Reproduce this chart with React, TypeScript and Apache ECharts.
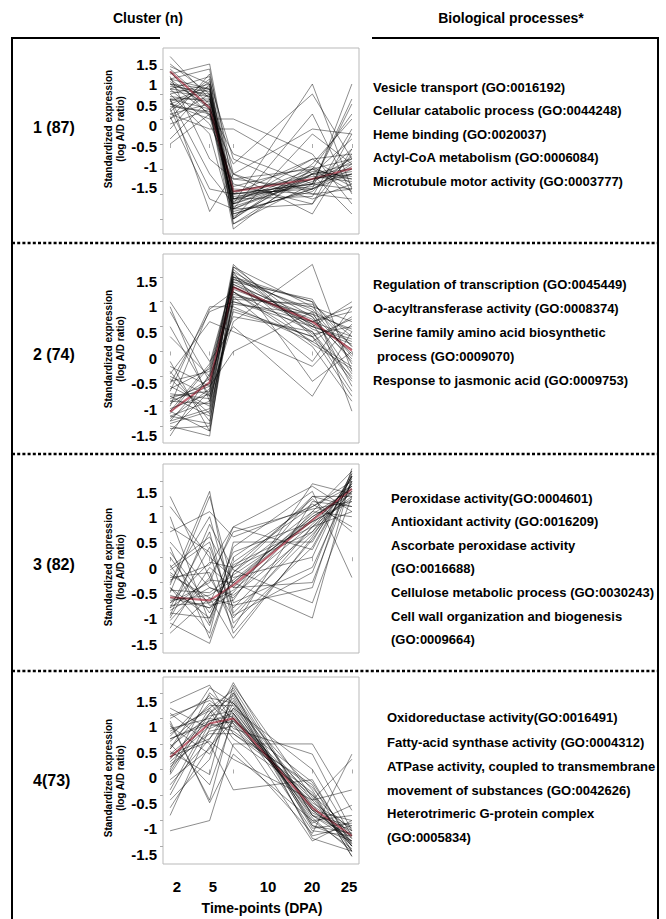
import React, { useEffect, useRef } from 'react';
import * as echarts from 'echarts';

// ---------------- data ----------------
const timePoints = [2, 7, 10, 20, 25];
const xTickLabels = ['2', '5', '10', '20', '25'];
const yTickValues = [-1.5, -1, -0.5, 0, 0.5, 1, 1.5];
const clusterLabels = ['1 (87)', '2 (74)', '3 (82)', '4(73)'];
const headerCluster = 'Cluster (n)';
const headerProcesses = 'Biological processes*';
const yTitleLine1 = 'Standardized expression';
const yTitleLine2 = '(log A/D ratio)';
const xTitle = 'Time-points (DPA)';

const cluster1Profiles = [
  [1.75, 0.9, -1.2, -0.6, -0.5], [1.6, 1.0, -1.0, -0.8, -0.6], [1.5, 0.8, -1.3, -0.7, -0.3],
  [1.4, 1.6, -0.9, -1.0, -1.1], [1.3, 1.5, -1.1, -0.8, -0.9], [1.2, 1.1, -1.5, -0.5, -0.3],
  [1.2, 0.6, -0.8, -1.2, 0.2], [1.1, 1.0, -1.6, -0.6, 0.1], [1.1, 0.4, -0.6, -1.1, -0.8],
  [1.0, 1.2, -1.4, -0.9, -0.4], [0.9, -1.35, -0.6, 0.3, 0.2], [0.9, 0.9, -1.0, -0.3, -0.8],
  [0.9, 0.7, -1.7, -0.5, 0.6], [0.8, 1.1, -1.2, 1.2, -0.9], [0.8, 0.5, 0.5, -0.2, -1.2],
  [0.7, 1.3, -1.1, -0.7, -0.6], [0.7, -0.9, -1.0, -0.8, 0.9], [0.6, 0.8, -1.4, -0.9, 1.2],
  [0.6, 0.3, 0.3, -0.6, -1.4], [0.5, 1.0, -1.3, -1.2, -0.2], [0.5, 1.4, -0.6, -1.4, -0.1],
  [0.3, 1.2, -1.1, -0.5, -0.7], [0.1, 0.9, -1.0, -0.9, -0.5], [0.0, 0.6, -0.4, 1.0, -0.3],
  [1.3, 0.7, -1.5, 0.2, -0.4], [1.15, 1.05, -1.2, -0.7, -0.55], [1.05, 0.95, -1.05, -0.85, -0.45],
  [0.95, 0.85, -1.25, -0.75, -0.35], [1.25, 0.75, -0.95, -0.65, -0.75], [0.85, 1.15, -1.35, -0.95, -0.25],
  [1.45, 0.55, -1.15, -0.55, -0.65], [0.75, 0.65, -0.85, -0.45, -0.85], [1.35, -0.3, -0.7, -0.9, -0.6],
  [1.0, 0.2, -1.5, -0.4, 0.5], [0.65, 1.25, -0.3, -1.0, -0.9], [1.55, 1.2, -1.6, -0.8, -0.1],
  [0.9, -0.6, -1.2, -0.3, -0.2], [1.2, 0.95, -1.3, 0.6, -1.0], [0.4, 0.7, -0.2, -0.8, 0.8],
  [1.1, 1.35, -1.45, -0.6, -0.7], [0.8, 0.6, -1.1, -1.05, 0.3], [1.3, 1.1, -0.7, -0.5, -0.95],
  [0.55, -1.1, -1.3, -0.6, -0.4],
];
const cluster1Centroid = [1.45, 0.72, -0.95, -0.7, -0.49];

const cluster2Profiles = [
  [-1.6, -0.8, 1.7, 0.9, 0.1], [-1.5, -1.7, 1.5, 0.8, 0.4], [-1.4, -0.5, 1.6, 0.7, -0.2],
  [-1.3, -1.0, 1.4, 0.6, 0.3], [-1.2, -1.6, 1.3, 0.5, 1.0], [-1.1, 0.85, 1.2, 0.4, -0.6],
  [-1.0, -0.7, 1.75, 0.3, -0.9], [-0.9, -1.3, 1.1, 0.9, 0.6], [-0.8, 0.9, 0.9, 0.2, -0.3],
  [-0.7, -1.1, 1.5, 1.0, -1.2], [-0.6, -0.4, 1.3, 0.6, 0.8], [-0.5, -0.9, 0.6, 1.75, -0.4],
  [-0.4, -1.4, 1.0, 0.5, 0.2], [1.0, -0.2, 0.5, -0.9, 0.4], [0.8, -0.6, 1.2, 0.1, -1.0],
  [0.9, -1.0, 0.8, 0.3, -0.5], [-1.25, -0.3, 1.45, 0.85, -0.1], [-1.35, -0.75, 1.35, 0.55, 0.05],
  [-1.05, -0.55, 1.25, 0.65, -0.15], [-1.15, -0.85, 1.55, 0.45, 0.15], [-0.95, -0.65, 1.15, 0.75, -0.05],
  [-1.45, -1.2, 1.65, 0.35, 0.5], [-0.3, -0.7, 0.0, 0.8, -0.7], [-0.65, 0.8, 1.0, 0.6, 0.9],
  [-1.55, -1.5, 1.4, 1.05, -0.25], [-0.85, -0.95, 1.6, -0.6, 0.0], [-1.7, -0.45, 1.2, 0.2, 0.7],
  [-0.55, -1.25, 1.05, 0.95, 0.3], [0.3, -0.5, 0.7, 0.4, -0.8], [-0.75, -0.35, 1.35, 0.7, -0.45],
  [-1.3, -1.45, 1.7, 0.5, 0.25], [-0.45, 0.6, 0.4, -0.3, 0.55], [-1.0, -1.05, 0.95, 0.75, 0.45],
  [-1.2, -0.25, 1.5, 0.15, -0.35], [-0.9, -0.8, 1.45, 1.0, 0.1], [-1.4, -1.15, 0.85, 0.3, 0.65],
  [0.5, -0.9, 1.3, 0.55, -0.55], [-0.2, -1.6, 1.1, -0.2, 0.9],
];
const cluster2Centroid = [-1.21, -0.62, 1.29, 0.6, 0.02];

const cluster3Profiles = [
  [-1.5, -0.8, -1.6, 0.4, 1.6], [-1.3, -1.7, -0.3, 0.9, 1.7], [-1.2, 0.2, -1.0, 0.6, 1.4],
  [-1.1, -1.2, -0.1, 1.0, 1.5], [-1.0, 0.5, -1.3, 0.2, 1.6], [-0.9, -0.5, 0.6, 1.4, 0.9],
  [-0.8, -1.0, -0.7, 1.2, 1.2], [-0.7, 1.2, -0.6, 0.8, 1.3], [-0.6, -1.5, 0.3, 0.3, 1.65],
  [-0.5, 0.8, -0.9, -0.2, 1.5], [-0.4, -0.3, -1.4, 1.1, 1.0], [-0.3, -0.9, 0.1, 0.7, 1.1],
  [-0.2, 0.4, -0.5, -1.2, 1.6], [0.0, -1.1, -0.2, 0.5, 1.3], [0.3, -0.6, -0.8, 0.9, 0.8],
  [0.5, 0.9, 0.4, 1.0, 1.4], [1.2, -0.4, -1.2, 0.6, 1.2], [1.0, 0.0, -0.4, 0.0, 1.7],
  [0.8, -1.3, 0.2, 1.3, -0.4], [-1.4, -0.2, -0.6, -0.5, 1.5], [-0.85, -0.75, -0.45, 0.8, 1.25],
  [-0.95, -0.9, -0.65, 0.65, 1.45], [-0.75, -1.0, -0.5, 0.85, 1.35], [-0.65, -0.7, -0.35, 0.7, 1.15],
  [-1.05, -0.6, -0.75, 0.5, 1.55], [-0.55, 1.3, -1.1, 0.45, 1.3], [0.2, -1.6, -0.3, 1.2, 1.0],
  [-1.25, -0.4, 0.5, 0.95, 1.1], [-0.35, -0.8, -0.95, -0.6, 1.75], [0.6, 0.1, -1.5, 0.35, 1.45],
  [-0.15, -1.35, 0.0, 1.05, 0.6], [-1.15, 0.65, -0.25, -0.9, 1.2], [-0.45, -0.15, 0.6, 0.15, 1.6],
  [0.1, -0.95, -0.85, 1.45, 1.25], [-0.6, -1.2, -0.15, 0.6, 0.9], [-1.0, -0.45, -0.5, 0.75, 1.4],
  [-0.25, 0.3, -1.15, -0.3, 1.65], [-0.9, -0.1, -0.2, 1.15, 0.5],
];
const cluster3Centroid = [-0.79, -0.85, -0.55, 0.73, 1.35];

const cluster4Profiles = [
  [1.3, 1.65, 0.9, -0.6, -1.5], [1.2, 0.8, 1.7, -0.9, -1.3], [1.0, 1.4, 1.3, -0.4, -1.7],
  [0.9, -0.6, 1.1, -0.8, -1.0], [0.8, 1.0, 1.5, -1.1, -1.4], [0.7, 1.2, 0.6, -0.5, -1.6],
  [0.6, 0.9, 1.4, -1.3, -1.1], [0.5, -0.3, 1.0, -0.7, -1.5], [0.4, 1.3, 0.8, 0.3, -1.2],
  [0.3, 0.6, 1.2, -1.0, -0.9], [0.2, 1.1, 1.6, -0.9, -1.4], [0.1, 0.7, 0.7, -0.3, -1.6],
  [0.0, 1.5, 1.1, -1.2, -1.3], [-0.2, 0.4, 1.3, -0.6, 0.2], [-0.4, 1.0, 0.9, -1.4, -1.0],
  [-0.6, 0.2, 1.5, -0.8, -1.4], [-0.9, 0.8, 1.0, -0.5, -1.2], [-1.2, -1.0, 0.5, 0.5, -0.8],
  [1.1, 0.5, -0.4, -0.2, -1.5], [0.95, -0.65, 0.3, -1.0, -1.55], [0.3, 0.95, 1.05, -0.7, -1.25],
  [0.15, 0.85, 0.95, -0.8, -1.35], [0.45, 1.05, 1.15, -0.75, -1.45], [0.05, 0.75, 0.85, -0.65, -1.15],
  [0.55, 1.25, 1.25, -0.95, -1.6], [-0.1, 1.1, 1.45, -1.15, -1.05], [0.85, 0.3, 1.2, 0.0, -1.3],
  [0.65, 1.45, 0.7, -0.45, -1.7], [-0.3, 0.6, 1.35, -1.05, -0.7], [0.35, -0.1, 1.65, -0.55, -1.5],
  [0.75, 1.15, 0.45, -1.25, 0.3], [-0.5, 0.9, 0.75, -0.35, -1.35], [1.05, 1.35, 1.0, -0.85, -1.2],
  [0.25, 0.55, 0.2, -0.6, -0.4], [-0.05, 1.2, 1.55, -1.35, -1.6], [0.6, 0.95, 1.1, -0.9, -1.1],
  [-0.75, 0.45, 0.95, -0.25, -1.45], [0.4, 1.6, 1.3, -1.1, -1.25],
];
const cluster4Centroid = [0.24, 0.9, 1.0, -0.75, -1.3];

const processes1 = [
  'Vesicle transport (GO:0016192)',
  'Cellular catabolic process (GO:0044248)',
  'Heme binding (GO:0020037)',
  'Actyl-CoA metabolism (GO:0006084)',
  'Microtubule motor activity (GO:0003777)',
];
const processes2 = [
  'Regulation of transcription (GO:0045449)',
  'O-acyltransferase activity (GO:0008374)',
  'Serine family amino acid biosynthetic',
  'process (GO:0009070)',
  'Response to jasmonic acid (GO:0009753)',
];
const processes3 = [
  'Peroxidase activity(GO:0004601)',
  'Antioxidant activity (GO:0016209)',
  'Ascorbate peroxidase activity',
  '(GO:0016688)',
  'Cellulose metabolic process (GO:0030243)',
  'Cell wall organization and biogenesis',
  '(GO:0009664)',
];
const processes4 = [
  'Oxidoreductase activity(GO:0016491)',
  'Fatty-acid synthase activity (GO:0004312)',
  'ATPase activity, coupled to transmembrane',
  'movement of substances (GO:0042626)',
  'Heterotrimeric G-protein complex',
  '(GO:0005834)',
];

// ---------------- layout ----------------
const FONT = '"Liberation Sans", Arial, Helvetica, sans-serif';
const PLOT_LEFT = 163;
const PLOT_WIDTH = 196;
const panelTop = [48, 254, 464, 677];
const panelBottom = [234, 443, 653, 864];
const panelYMin = [-1.8, -1.84, -1.89, -1.85];
const panelYMax = [1.92, 1.96, 1.84, 1.81];
const labelTop = [64, 281, 492, 701];
const labelBottom = [187, 435, 644, 854];
const clusterLabelY = [127, 354, 564, 780];
const yTitleY = [129, 349, 567, 778];
const procX = [373, 373, 391, 387];
const procY = [
  [87, 110.5, 134, 157.5, 181],
  [284, 308, 332, 356, 380],
  [498, 521, 545, 568, 592, 616, 639],
  [717, 742, 766, 790, 813, 837],
];
const procXShift = [[0, 0, 0, 0, 0], [0, 0, 0, 4, 0], [0, 0, 0, 0, 0, 0, 0], [0, 0, 0, 0, 0, 0]];
const xLabelX = [177, 213, 268, 312, 349];
const separatorsY = [243, 454, 671];

const allProfiles = [cluster1Profiles, cluster2Profiles, cluster3Profiles, cluster4Profiles];
const allCentroids = [cluster1Centroid, cluster2Centroid, cluster3Centroid, cluster4Centroid];
const allProcesses = [processes1, processes2, processes3, processes4];

function txt(text: string, x: number, y: number, size: number, align = 'left', bold = true, rotation = 0) {
  return {
    type: 'text',
    x,
    y,
    rotation,
    silent: true,
    z: 10,
    style: {
      text,
      font: `${bold ? 'bold ' : ''}${size}px ${FONT}`,
      fill: '#000',
      align,
      verticalAlign: 'middle',
      textAlign: align,
      textVerticalAlign: 'middle',
    },
  };
}

function buildOption() {
  const grids: any[] = [];
  const xAxes: any[] = [];
  const yAxes: any[] = [];
  const series: any[] = [];

  for (let i = 0; i < 4; i++) {
    grids.push({
      left: PLOT_LEFT,
      top: panelTop[i],
      width: PLOT_WIDTH,
      height: panelBottom[i] - panelTop[i],
      show: true,
      borderColor: '#b9b9b9',
      borderWidth: 1,
      backgroundColor: '#fff',
      containLabel: false,
      outerBoundsMode: 'none',
    });
    xAxes.push({
      gridIndex: i,
      type: 'value',
      min: 1.1,
      max: 25.9,
      axisLine: { show: false },
      axisLabel: { show: false },
      splitLine: { show: false },
      axisTick: { show: true, customValues: timePoints, length: 4, lineStyle: { color: '#aaa' } },
    });
    yAxes.push({
      gridIndex: i,
      type: 'value',
      min: panelYMin[i],
      max: panelYMax[i],
      axisLine: { show: false },
      axisLabel: { show: false },
      splitLine: { show: false },
      axisTick: { show: true, customValues: yTickValues, length: 3, lineStyle: { color: '#aaa' } },
    });
  }
  // label-only grids for the y tick labels
  for (let i = 0; i < 4; i++) {
    grids.push({
      left: PLOT_LEFT,
      top: labelTop[i],
      width: PLOT_WIDTH,
      height: labelBottom[i] - labelTop[i],
      show: false,
      containLabel: false,
      outerBoundsMode: 'none',
    });
    xAxes.push({ gridIndex: 4 + i, type: 'value', min: 0, max: 1, show: false });
    yAxes.push({
      gridIndex: 4 + i,
      type: 'value',
      min: -1.5,
      max: 1.5,
      interval: 0.5,
      axisLine: { show: false },
      axisTick: { show: false },
      splitLine: { show: false },
      axisLabel: {
        show: true,
        margin: 6,
        fontSize: 15,
        fontWeight: 'bold',
        fontFamily: FONT,
        color: '#000',
      },
    });
  }

  for (let i = 0; i < 4; i++) {
    const profiles = allProfiles[i];
    const half = Math.floor(profiles.length / 2);
    profiles.forEach((p, idx) => {
      series.push({
        type: 'line',
        xAxisIndex: i,
        yAxisIndex: i,
        data: timePoints.map((t, k) => [t, p[k]]),
        symbol: 'none',
        silent: true,
        z: idx < half ? 2 : 4,
        lineStyle: { color: '#000', width: 1, opacity: 0.45 },
      });
    });
    series.push({
      type: 'line',
      xAxisIndex: i,
      yAxisIndex: i,
      data: timePoints.map((t, k) => [t, allCentroids[i][k]]),
      symbol: 'none',
      silent: true,
      z: 3,
      lineStyle: { color: '#b23c4e', width: 2.2, opacity: 0.75 },
    });
  }

  const graphics: any[] = [];
  // outer frame
  const frame = { stroke: '#000', lineWidth: 2 };
  graphics.push({ type: 'line', silent: true, shape: { x1: 12, y1: 37, x2: 12, y2: 930 }, style: frame });
  graphics.push({ type: 'line', silent: true, shape: { x1: 658, y1: 37, x2: 658, y2: 930 }, style: frame });
  graphics.push({ type: 'line', silent: true, shape: { x1: 11, y1: 38, x2: 160, y2: 38 }, style: frame });
  graphics.push({ type: 'line', silent: true, shape: { x1: 372, y1: 38, x2: 659, y2: 38 }, style: frame });
  separatorsY.forEach((y) => {
    graphics.push({
      type: 'line',
      silent: true,
      shape: { x1: 12, y1: y, x2: 658, y2: y },
      style: { stroke: '#000', lineWidth: 2.5, lineDash: [3, 2.2] },
    });
  });
  // headers
  graphics.push(txt(headerCluster, 148, 18, 14, 'center'));
  graphics.push(txt(headerProcesses, 511, 18, 14, 'center'));
  for (let i = 0; i < 4; i++) {
    graphics.push(txt(clusterLabels[i], 33, clusterLabelY[i], 16, 'left'));
    graphics.push(txt(yTitleLine1, 108, yTitleY[i], 10, 'center', true, Math.PI / 2));
    graphics.push(txt(yTitleLine2, 120, yTitleY[i], 10, 'center', true, Math.PI / 2));
    allProcesses[i].forEach((line, k) => {
      graphics.push(txt(line, procX[i] + procXShift[i][k], procY[i][k], 13, 'left'));
    });
  }
  xTickLabels.forEach((l, k) => graphics.push(txt(l, xLabelX[k], 886, 15, 'center')));
  graphics.push(txt(xTitle, 262, 908, 14, 'center'));

  return {
    animation: false,
    backgroundColor: '#fff',
    grid: grids,
    xAxis: xAxes,
    yAxis: yAxes,
    series,
    graphic: { elements: graphics },
  };
}

export default function App() {
  const ref = useRef<HTMLDivElement>(null);
  useEffect(() => {
    if (!ref.current) return;
    const chart = echarts.init(ref.current, null, { renderer: 'svg' });
    chart.setOption(buildOption() as any);
    return () => chart.dispose();
  }, []);
  return (
    <div
      ref={ref}
      style={{ position: 'absolute', left: 0, top: 0, width: 666, height: 919, background: '#fff' }}
    />
  );
}
